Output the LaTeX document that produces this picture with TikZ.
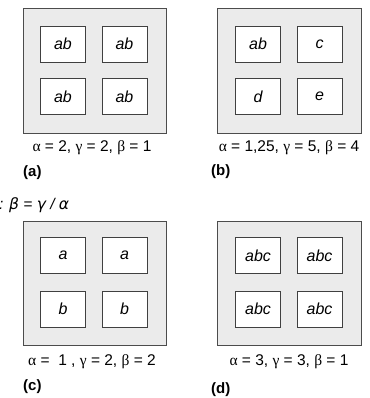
\documentclass[tikz,border=0pt]{standalone}
\usepackage{fontspec}
\setmainfont{Liberation Sans}
\newfontfamily\grk{Liberation Serif}
\begin{document}
\begin{tikzpicture}[x=1pt,y=-1pt,
  outerbox/.style={draw=black!70,fill=black!8,line width=0.8pt},
  cell/.style={draw=black!75,fill=white,line width=0.7pt,minimum width=45pt,minimum height=36pt,inner sep=0pt,font=\fontsize{16}{18}\selectfont\itshape},
  capt/.style={font=\fontsize{15.5}{18}\selectfont,inner sep=0pt},
  tag/.style={font=\fontsize{15}{18}\selectfont\bfseries,inner sep=0pt,anchor=west}]
\useasboundingbox (0,0) rectangle (369,398);
% panel a
\draw[outerbox] (23,8) rectangle (166,133);
\node[cell] (a1) at (63,44) {ab};
\node[cell] (a2) at (124.5,44) {ab};
\node[cell] (a3) at (63,96.5) {ab};
\node[cell] (a4) at (124.5,96.5) {ab};
\node[capt] (ca) at (92,148) {{\grk α} = 2, {\grk γ} = 2, {\grk β} = 1};
\node[tag] (ta) at (23,173) {(a)};
% panel b
\draw[outerbox] (217,8) rectangle (361,133);
\node[cell] (b1) at (258,44) {ab};
\node[cell] (b2) at (319.5,44) {c};
\node[cell] (b3) at (258,96.5) {d};
\node[cell] (b4) at (319.5,96.5) {e};
\node[capt] (cb) at (289,148) {{\grk α} = 1,25, {\grk γ} = 5, {\grk β} = 4};
\node[tag] (tb) at (211,172) {(b)};
% formula
\node[font=\fontsize{15.5}{18}\selectfont\itshape,inner sep=0pt,anchor=west] (f) at (-1,205) {: {\fontspec{DejaVu Sans}\itshape β} = {\fontspec{DejaVu Sans}\itshape γ} / {\fontspec{DejaVu Sans}\itshape α}};
% panel c
\draw[outerbox] (23,221) rectangle (166,345);
\node[cell] (c1) at (63,255.5) {a};
\node[cell] (c2) at (124.5,255.5) {a};
\node[cell] (c3) at (63,309) {b};
\node[cell] (c4) at (124.5,309) {b};
\node[capt] (cc) at (92,362) {{\grk α} =\ \ 1 , {\grk γ} = 2, {\grk β} = 2};
\node[tag] (tc) at (23,387) {(c)};
% panel d
\draw[outerbox] (217,221) rectangle (361,345);
\node[cell] (d1) at (258,255.5) {abc};
\node[cell] (d2) at (319.5,255.5) {abc};
\node[cell] (d3) at (258,309) {abc};
\node[cell] (d4) at (319.5,309) {abc};
\node[capt] (cd) at (289,362) {{\grk α} = 3, {\grk γ} = 3, {\grk β} = 1};
\node[tag] (td) at (211,390) {(d)};
\end{tikzpicture}
\end{document}
